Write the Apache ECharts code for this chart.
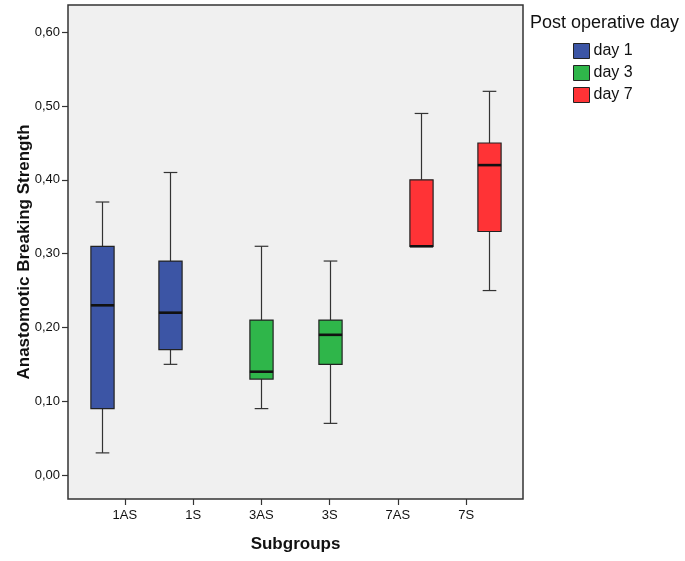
<!DOCTYPE html>
<html>
<head>
    <meta charset="utf-8">
    <title>Boxplot</title>
    <script src="https://cdn.jsdelivr.net/npm/echarts@6/dist/echarts.min.js"></script>
    <style>
        html, body { margin: 0; padding: 0; background: #fff; }
    </style>
</head>
<body>
<div id="main" style="width: 685px;height:561px;"></div>
<script type="text/javascript">
    // subgroups and the day each belongs to
    var subgroups = ['1AS', '1S', '3AS', '3S', '7AS', '7S'];
    var dayOf = [0, 0, 1, 1, 2, 2];
    var days = ['day 1', 'day 3', 'day 7'];
    var dayColors = ['#3c55a5', '#2fb64a', '#ff3336'];

    // box values
    var minVals = [0.03, 0.15, 0.09, 0.07, 0.31, 0.25];
    var q1Vals  = [0.09, 0.17, 0.13, 0.15, 0.31, 0.33];
    var medVals = [0.23, 0.22, 0.14, 0.19, 0.31, 0.42];
    var q3Vals  = [0.31, 0.29, 0.21, 0.21, 0.40, 0.45];
    var maxVals = [0.37, 0.41, 0.31, 0.29, 0.49, 0.52];

    var yTicks = [0, 0.1, 0.2, 0.3, 0.4, 0.5, 0.6];

    // x axis: 3 slots per subgroup (day 1 / 3 / 7) plus one empty slot each side
    var slots = ['pad-l'];
    subgroups.forEach(function (g) {
        slots.push(g + ':0', g, g + ':2');
    });
    slots.push('pad-r');

    function isMid(i) { return i % 3 === 2; }

    function renderBox(params, api) {
        var x = api.value(0);
        var pMin = api.coord([x, api.value(1)]);
        var pQ1 = api.coord([x, api.value(2)]);
        var pMed = api.coord([x, api.value(3)]);
        var pQ3 = api.coord([x, api.value(4)]);
        var pMax = api.coord([x, api.value(5)]);
        var bw = api.size([1, 0])[0];
        var half = bw * 0.51;
        var cap = bw * 0.3;
        var cx = Math.round(pMed[0]) + 0.5;
        var wStyle = {stroke: '#333', lineWidth: 1.2};
        return {
            type: 'group',
            children: [
                {type: 'line', shape: {x1: cx, y1: pQ3[1], x2: cx, y2: pMax[1]}, style: wStyle},
                {type: 'line', shape: {x1: cx - cap, y1: pMax[1], x2: cx + cap, y2: pMax[1]}, style: wStyle},
                {type: 'line', shape: {x1: cx, y1: pQ1[1], x2: cx, y2: pMin[1]}, style: wStyle},
                {type: 'line', shape: {x1: cx - cap, y1: pMin[1], x2: cx + cap, y2: pMin[1]}, style: wStyle},
                {
                    type: 'rect',
                    shape: {x: cx - half, y: pQ3[1], width: half * 2, height: pQ1[1] - pQ3[1]},
                    style: {fill: api.visual('color'), stroke: '#222', lineWidth: 1.2}
                },
                {type: 'line', shape: {x1: cx - half, y1: pMed[1], x2: cx + half, y2: pMed[1]},
                    style: {stroke: '#111', lineWidth: 2.6}}
            ]
        };
    }

    var series = days.map(function (d, k) {
        var items = [];
        subgroups.forEach(function (g, i) {
            if (dayOf[i] !== k) return;
            items.push([1 + i * 3 + k, minVals[i], q1Vals[i], medVals[i], q3Vals[i], maxVals[i]]);
        });
        return {
            name: d,
            type: 'custom',
            renderItem: renderBox,
            itemStyle: {color: dayColors[k], borderColor: '#222', borderWidth: 1},
            encode: {x: 0, y: [1, 2, 3, 4, 5]},
            data: items
        };
    });

    var myChart = echarts.init(document.getElementById('main'));
    var option = {
        animation: false,
        textStyle: {fontFamily: 'Liberation Sans, Arial, sans-serif'},
        title: {
            text: 'Post operative day',
            left: 525,
            top: 9,
            textStyle: {fontSize: 18, fontWeight: 'normal', color: '#111'}
        },
        legend: {
            orient: 'vertical',
            left: 568,
            top: 38,
            itemWidth: 16,
            itemHeight: 15,
            itemGap: 6,
            icon: 'rect',
            textStyle: {fontSize: 16, color: '#111', padding: [0, 0, 0, -1]},
            itemStyle: {borderColor: '#222', borderWidth: 1},
            data: days
        },
        grid: {
            left: 68,
            right: 162,
            top: 5,
            bottom: 62,
            show: true,
            backgroundColor: '#f0f0f0',
            borderColor: '#333',
            borderWidth: 1.5
        },
        xAxis: {
            type: 'category',
            data: slots,
            name: 'Subgroups',
            nameLocation: 'middle',
            nameGap: 37,
            nameTextStyle: {fontSize: 17, fontWeight: 'bold', color: '#111'},
            axisLine: {show: false, onZero: false},
            axisTick: {show: true, alignWithLabel: true, interval: isMid, length: 6,
                lineStyle: {color: '#333', width: 1.2}},
            axisLabel: {interval: isMid, margin: 10, fontSize: 13, color: '#111',
                formatter: function (v) { return subgroups.indexOf(v) >= 0 ? v : ''; }},
            splitLine: {show: false}
        },
        yAxis: {
            type: 'value',
            min: -0.0325,
            max: 0.637,
            name: 'Anastomotic Breaking Strength',
            nameLocation: 'middle',
            nameGap: 35,
            nameMoveOverlap: false,
            nameTextStyle: {fontSize: 17, fontWeight: 'bold', color: '#111'},
            axisLine: {show: false, onZero: false},
            axisTick: {show: true, length: 6, customValues: yTicks,
                lineStyle: {color: '#333', width: 1.2}},
            axisLabel: {margin: 8, fontSize: 13, color: '#111', customValues: yTicks,
                formatter: function (v) { return v.toFixed(2).replace('.', ','); }},
            splitLine: {show: false}
        },
        series: series
    };
    myChart.setOption(option);
</script>
</body>
</html>
